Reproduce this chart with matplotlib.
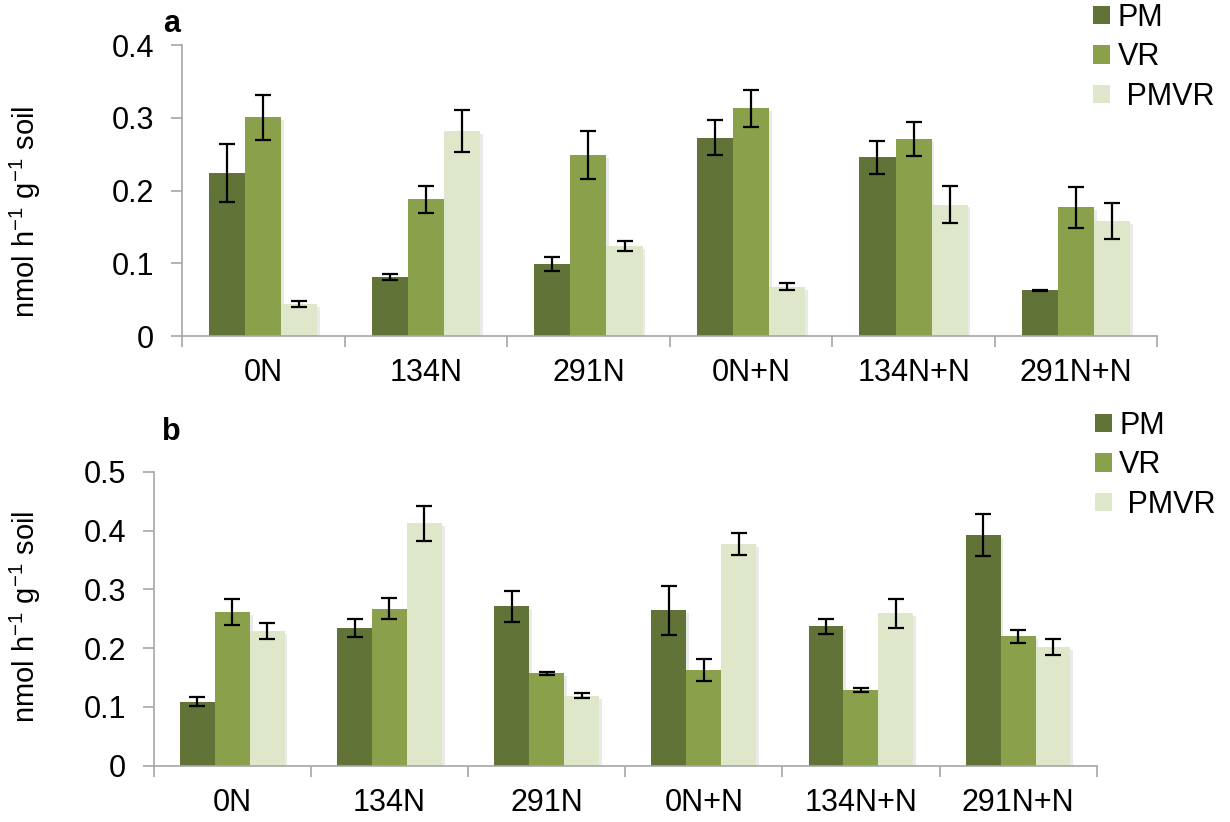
import numpy as np
import matplotlib
matplotlib.use("Agg")
import matplotlib.pyplot as plt
import matplotlib.patheffects as pe
from matplotlib.patches import Patch

plt.rcParams['font.family'] = ['Liberation Sans', 'DejaVu Sans']
plt.rcParams['mathtext.fontset'] = 'custom'
plt.rcParams['mathtext.rm'] = 'Liberation Sans'
plt.rcParams['mathtext.it'] = 'Liberation Sans'

treatments = ['0N', '134N', '291N', '0N+N', '134N+N', '291N+N']
series = ['PM', 'VR', ' PMVR']
colors = ['#617337', '#8aa04b', '#dfe7cb']

# panel a
a_pm = [0.224, 0.081, 0.099, 0.273, 0.246, 0.063]
a_vr = [0.301, 0.188, 0.249, 0.313, 0.271, 0.177]
a_pmvr = [0.044, 0.282, 0.124, 0.068, 0.181, 0.158]
a_pm_err = [0.040, 0.004, 0.010, 0.024, 0.023, 0.001]
a_vr_err = [0.031, 0.018, 0.033, 0.026, 0.023, 0.028]
a_pmvr_err = [0.004, 0.029, 0.007, 0.005, 0.026, 0.025]

# panel b
b_pm = [0.109, 0.234, 0.271, 0.264, 0.237, 0.392]
b_vr = [0.261, 0.267, 0.157, 0.163, 0.129, 0.220]
b_pmvr = [0.229, 0.412, 0.119, 0.377, 0.259, 0.202]
b_pm_err = [0.007, 0.015, 0.026, 0.041, 0.013, 0.036]
b_vr_err = [0.022, 0.018, 0.002, 0.019, 0.003, 0.011]
b_pmvr_err = [0.013, 0.030, 0.004, 0.019, 0.024, 0.013]

ylabel = 'nmol h$^{-1}$ g$^{-1}$ soil'
grey = '#a6a6a6'


def draw_panel(ax, values, errors, ymax, letter, letter_pos, ylabel_pos, legend_anchor):
    x = np.arange(len(treatments))
    width = 0.222
    shadow = [pe.SimplePatchShadow(offset=(2, -2), shadow_rgbFace='#999999', alpha=0.2), pe.Normal()]
    for i, (vals, errs) in enumerate(zip(values, errors)):
        bars = ax.bar(x + (i - 1) * width, vals, width, color=colors[i], zorder=2)
        for b in bars:
            b.set_path_effects(shadow)
        ax.errorbar(x + (i - 1) * width, vals, yerr=errs, fmt='none', ecolor='black',
                    elinewidth=1.6, capsize=6, capthick=1.6, zorder=3)

    ax.set_xlim(-0.5, len(treatments) - 0.5)
    ax.set_ylim(0, ymax)
    ax.set_yticks(np.arange(0, ymax + 0.001, 0.1))
    ax.set_yticklabels(['0'] + ['%.1f' % v for v in np.arange(0.1, ymax + 0.001, 0.1)])
    ax.set_xticks(x)
    ax.set_xticklabels(treatments)
    ax.set_xticks(np.arange(-0.5, len(treatments)), minor=True)
    ax.tick_params(axis='x', which='major', length=0, pad=16, labelsize=22)
    ax.tick_params(axis='x', which='minor', length=8, color=grey, width=1.2)
    ax.tick_params(axis='y', length=8, color=grey, width=1.2, pad=12, labelsize=22)

    for side in ['top', 'right']:
        ax.spines[side].set_visible(False)
    for side in ['left', 'bottom']:
        ax.spines[side].set_color(grey)
        ax.spines[side].set_linewidth(1.2)

    ax.set_ylabel(ylabel, fontsize=21)
    ax.yaxis.set_label_coords(*ylabel_pos)
    ax.text(letter_pos[0], letter_pos[1], letter, transform=ax.transAxes, fontsize=22,
            fontweight='bold', ha='left', va='baseline')

    handles = [Patch(facecolor=c) for c in colors]
    ax.legend(handles, series, loc='upper left', bbox_to_anchor=legend_anchor,
              bbox_transform=ax.figure.transFigure, frameon=False, fontsize=22,
              handlelength=0.55, handleheight=0.55, handletextpad=0.25, labelspacing=0.31,
              borderaxespad=0, borderpad=0)


fig = plt.figure(figsize=(12.3, 8.22), dpi=100)
ax_a = fig.add_axes([0.148, 0.591, 0.793, 0.354])
ax_b = fig.add_axes([0.125, 0.0685, 0.7666, 0.3576])

draw_panel(ax_a, [a_pm, a_vr, a_pmvr], [a_pm_err, a_vr_err, a_pmvr_err], 0.4, 'a',
           (-0.0195, 1.045), (-0.1426, 0.426), (0.889, 0.9964))
draw_panel(ax_b, [b_pm, b_vr, b_pmvr], [b_pm_err, b_vr_err, b_pmvr_err], 0.5, 'b',
           (0.0085, 1.108), (-0.1177, 0.507), (0.890, 0.5004))

fig.savefig('out.png', dpi=100)
